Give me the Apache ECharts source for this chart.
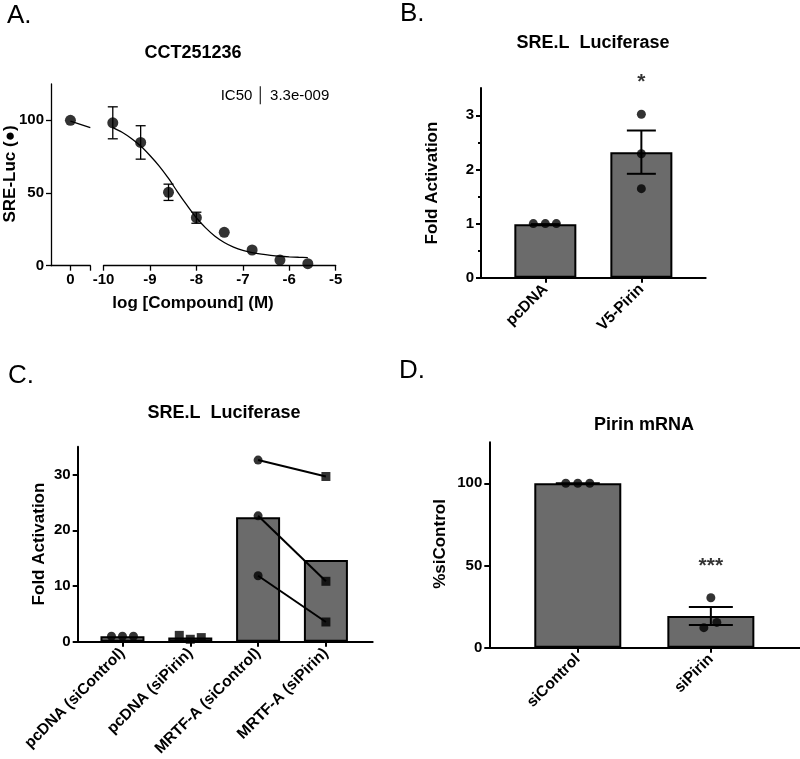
<!DOCTYPE html>
<html>
<head>
<meta charset="utf-8">
<script src="https://cdn.jsdelivr.net/npm/echarts@6/dist/echarts.min.js"></script>
<style>html,body{margin:0;padding:0;background:#fff}#c{width:800px;height:759px}</style>
</head>
<body>
<div id="c"></div>
<script>
// ---------- Panel A: CCT251236 dose response ----------
const vehicleXA = [0];
const vehicleYA = [100];
const logDoseA = [-9.8, -9.2, -8.6, -8.0, -7.4, -6.8, -6.2, -5.6];
const respA = [98.3, 84.8, 50.5, 33.0, 23.0, 10.8, 3.9, 1.4];
const semA = [11.0, 11.5, 5.6, 3.8, 0, 0, 0, 0];
const fitVehXA = [0, 0.43];
const fitVehYA = [99.5, 95];
const fitXA = [-9.8, -9.6, -9.4, -9.2, -9.0, -8.8, -8.6, -8.4, -8.2, -8.0, -7.8, -7.6, -7.4, -7.2, -7.0, -6.8, -6.6, -6.4, -6.2, -6.0, -5.8, -5.6];
const fitYA = [95, 91.8, 87.5, 82.3, 75.8, 68.5, 60, 50.5, 41.5, 33, 26, 20.3, 16, 12.8, 10.5, 9, 7.9, 7.1, 6.5, 6.1, 5.8, 5.6];
const ticksXA1 = [0];
const ticksXA2 = [-10, -9, -8, -7, -6, -5];
const ticksYA = [0, 50, 100];

// ---------- Panel B: SRE.L Luciferase (V5-Pirin) ----------
const catB = ['pcDNA', 'V5-Pirin'];
const meanB = [0.99, 2.32];
const semB = [0, 0.40];
const repB = [[1.0, 1.0, 1.0], [3.02, 2.29, 1.645]];
const sigB = ['', '*'];
const sigPosB = [0, 3.62];
const ticksYB = [0, 1, 2, 3];
const minorYB = [0.5, 1.5, 2.5];

// ---------- Panel C: SRE.L Luciferase (MRTF-A / siPirin) ----------
const catC = ['pcDNA (siControl)', 'pcDNA (siPirin)', 'MRTF-A (siControl)', 'MRTF-A (siPirin)'];
const meanC = [1.0, 0.75, 22.35, 14.68];
const repC = [[1, 1, 1], [1.15, 0.45, 0.75], [32.6, 22.6, 11.85], [29.65, 10.85, 3.55]];
const ticksYC = [0, 10, 20, 30];

// ---------- Panel D: Pirin mRNA ----------
const catD = ['siControl', 'siPirin'];
const meanD = [100, 19.3];
const semD = [0, 5.5];
const repD = [[100, 100, 100], [30.4, 15.4, 12.2]];
const sigD = ['', '***'];
const sigPosD = [0, 49.5];
const ticksYD = [0, 50, 100];

// ---------- styling (not data) ----------
const FONT = 'Liberation Sans, Arial, sans-serif';
const BAR = '#6b6b6b';
const jitB = [[-12, 0, 11], [0, 0, 0]];
const jitC = [[-11, 0, 11], [-11, 0, 11], [0, 0, 0], [0, 0, 0]];
const jitD = [[-12, 0, 12], [0, 6, -7]];
const symC = ['circle', 'rect', 'circle', 'rect'];

const chart = echarts.init(document.getElementById('c'));

function axisBase(lw) {
  return {
    axisLine: { show: true, onZero: false, lineStyle: { color: '#000', width: lw } },
    axisTick: { show: true, length: 5, lineStyle: { color: '#000', width: lw } },
    splitLine: { show: false },
    axisLabel: { color: '#000', fontWeight: 'bold', fontSize: 15, fontFamily: FONT, margin: 7 }
  };
}
function valueX(grid, min, max, customTicks, customLabels, formatter, lw, rotate, extra) {
  const b = axisBase(lw);
  const ax = Object.assign({ type: 'value', gridIndex: grid, min: min, max: max }, b);
  ax.axisTick = Object.assign({}, b.axisTick, { customValues: customTicks });
  ax.axisLabel = Object.assign({}, b.axisLabel, { customValues: customLabels });
  if (formatter) ax.axisLabel.formatter = formatter;
  if (rotate) { ax.axisLabel.rotate = rotate; ax.axisLabel.fontSize = 15.5; ax.axisLabel.margin = 9; }
  return Object.assign(ax, extra || {});
}
function valueY(grid, min, max, ticks, lw, extra) {
  const b = axisBase(lw);
  const ax = Object.assign({ type: 'value', gridIndex: grid, min: min, max: max, position: 'left' }, b);
  ax.axisTick = Object.assign({}, b.axisTick, { customValues: ticks });
  ax.axisLabel = Object.assign({}, b.axisLabel, { customValues: ticks });
  return Object.assign(ax, extra || {});
}

function errRenderer(capHalf, lw) {
  return function (params, api) {
    const x = api.value(0), lo = api.value(1), hi = api.value(2);
    const t = api.coord([x, hi]), b = api.coord([x, lo]);
    const st = { stroke: '#000', lineWidth: lw };
    const ch = [];
    if (hi > lo) ch.push({ type: 'line', shape: { x1: t[0], y1: t[1], x2: b[0], y2: b[1] }, style: st });
    ch.push({ type: 'line', shape: { x1: t[0] - capHalf, y1: t[1], x2: t[0] + capHalf, y2: t[1] }, style: st });
    if (hi > lo) ch.push({ type: 'line', shape: { x1: b[0] - capHalf, y1: b[1], x2: b[0] + capHalf, y2: b[1] }, style: st });
    return { type: 'group', children: ch };
  };
}

function repPoints(reps, jit) {
  const out = [];
  reps.forEach((col, i) => col.forEach((v, k) => {
    out.push({ value: [i, v], symbolOffset: [jit[i][k], 0] });
  }));
  return out;
}

const series = [];

// ----- A -----
series.push({
  type: 'line', xAxisIndex: 0, yAxisIndex: 0, symbol: 'none', silent: true,
  data: fitVehXA.map((x, i) => [x, fitVehYA[i]]),
  lineStyle: { color: '#000', width: 1.3 }, z: 2
});
series.push({
  type: 'scatter', xAxisIndex: 0, yAxisIndex: 0, symbolSize: 11,
  data: vehicleXA.map((x, i) => [x, vehicleYA[i]]),
  itemStyle: { color: '#000' }, z: 5
});
series.push({
  type: 'line', xAxisIndex: 1, yAxisIndex: 1, symbol: 'none', smooth: 0.3,
  data: fitXA.map((x, i) => [x, fitYA[i]]),
  lineStyle: { color: '#000', width: 1.3 }, z: 2
});
series.push({
  type: 'custom', xAxisIndex: 1, yAxisIndex: 1, renderItem: errRenderer(5, 1.3), z: 4,
  data: logDoseA.map((x, i) => [x, respA[i] - semA[i], respA[i] + semA[i]]).filter((d, i) => semA[i] > 0)
});
series.push({
  type: 'scatter', xAxisIndex: 1, yAxisIndex: 1, symbolSize: 11,
  data: logDoseA.map((x, i) => [x, respA[i]]),
  itemStyle: { color: '#000' }, z: 5
});

// ----- B -----
series.push({
  type: 'bar', xAxisIndex: 2, yAxisIndex: 2, barWidth: 62,
  data: meanB.map((v, i) => [i, v]),
  itemStyle: { color: BAR, borderColor: '#000', borderWidth: 2 }, z: 1
});
series.push({
  type: 'custom', xAxisIndex: 2, yAxisIndex: 2, renderItem: errRenderer(14.5, 2), z: 3,
  data: meanB.map((v, i) => [i, v - semB[i], v + semB[i]])
});
series.push({
  type: 'scatter', xAxisIndex: 2, yAxisIndex: 2, symbolSize: 9,
  data: repPoints(repB, jitB), itemStyle: { color: '#000' }, z: 5
});
series.push({
  type: 'scatter', xAxisIndex: 2, yAxisIndex: 2, symbolSize: 1, clip: false, silent: true,
  data: sigB.map((s, i) => ({ value: [i, sigPosB[i]], label: { formatter: s } })).filter((d, i) => sigB[i]),
  itemStyle: { color: 'rgba(0,0,0,0)' },
  label: { show: true, position: 'inside', color: '#000', fontSize: 21, fontFamily: FONT, fontWeight: 'bold' }
});

// ----- C -----
series.push({
  type: 'bar', xAxisIndex: 3, yAxisIndex: 4, barWidth: 44,
  data: meanC.map((v, i) => [i, v]),
  itemStyle: { color: BAR, borderColor: '#000', borderWidth: 2 }, z: 1
});
for (let k = 0; k < 3; k++) {
  series.push({
    type: 'line', xAxisIndex: 3, yAxisIndex: 4, symbol: 'none', silent: true,
    data: [[2, repC[2][k]], [3, repC[3][k]]],
    lineStyle: { color: '#000', width: 2 }, z: 3
  });
}
repC.forEach((col, i) => {
  series.push({
    type: 'scatter', xAxisIndex: 3, yAxisIndex: 4, symbol: symC[i], symbolSize: 9,
    data: col.map((v, k) => ({ value: [i, v], symbolOffset: [jitC[i][k], 0] })),
    itemStyle: { color: '#000' }, z: 5
  });
});

// ----- D -----
series.push({
  type: 'bar', xAxisIndex: 4, yAxisIndex: 5, barWidth: 87,
  data: meanD.map((v, i) => [i, v]),
  itemStyle: { color: BAR, borderColor: '#000', borderWidth: 2 }, z: 1
});
series.push({
  type: 'custom', xAxisIndex: 4, yAxisIndex: 5, renderItem: errRenderer(22, 2), z: 3,
  data: meanD.map((v, i) => [i, v - semD[i], v + semD[i]])
});
series.push({
  type: 'scatter', xAxisIndex: 4, yAxisIndex: 5, symbolSize: 9,
  data: repPoints(repD, jitD), itemStyle: { color: '#000' }, z: 5
});
series.push({
  type: 'scatter', xAxisIndex: 4, yAxisIndex: 5, symbolSize: 1, clip: false, silent: true,
  data: sigD.map((s, i) => ({ value: [i, sigPosD[i]], label: { formatter: s } })).filter((d, i) => sigD[i]),
  itemStyle: { color: 'rgba(0,0,0,0)' },
  label: { show: true, position: 'inside', color: '#000', fontSize: 21, fontFamily: FONT, fontWeight: 'bold' }
});

function txt(text, x, y, font, opts) {
  return Object.assign({
    type: 'text', x: x, y: y, silent: true,
    style: { text: text, font: font, fill: '#000', align: 'center', verticalAlign: 'middle' }
  }, opts || {});
}
const TITLE = 'bold 18px ' + FONT;
const AXN = 'bold 17px ' + FONT;
const LET = '26px ' + FONT;

const graphics = [
  txt('A.', 7, 16, LET),
  txt('B.', 400, 14, LET),
  txt('C.', 8, 376, LET),
  txt('D.', 399, 371, LET),
  txt('CCT251236', 193, 53, TITLE),
  txt('SRE.L  Luciferase', 593, 43, TITLE),
  txt('SRE.L  Luciferase', 224, 413, TITLE),
  txt('Pirin mRNA', 644, 425, TITLE),
  txt('IC50 \u2502 3.3e-009', 275, 96, '15px ' + FONT),
  txt('log [Compound] (M)', 193, 303, AXN),
  txt('SRE-Luc (\u25CF)', 10, 174, AXN, { rotation: Math.PI / 2 }),
  txt('Fold Activation', 432, 183, AXN, { rotation: Math.PI / 2 }),
  txt('Fold Activation', 39, 544, AXN, { rotation: Math.PI / 2 }),
  txt('%siControl', 440, 544, AXN, { rotation: Math.PI / 2 })
];
graphics.slice(0, 4).forEach(g => { g.style.align = 'left'; });

const option = {
  animation: false,
  backgroundColor: '#fff',
  grid: [
    { left: 51, top: 84, width: 39.3, height: 181.7 },
    { left: 103.5, top: 84, width: 232.2, height: 181.7 },
    { left: 481, top: 88.3, width: 224.7, height: 189.4 },
    { left: 77.7, top: 446.7, width: 295, height: 196.6 },
    { left: 489.3, top: 442.2, width: 310.7, height: 205.5 }
  ],
  xAxis: [
    valueX(0, -0.42, 0.43, [0, 0.43], ticksXA1, null, 1.3),
    Object.assign(valueX(1, -10, -5, ticksXA2, ticksXA2, null, 1.3), { interval: 1 }),
    valueX(2, -0.67, 1.67, [0, 1], [0, 1], v => catB[Math.round(v)], 2, 45),
    valueX(3, -0.66, 3.69, [0, 1, 2, 3], [0, 1, 2, 3], v => catC[Math.round(v)], 2, 45),
    valueX(4, -0.665, 1.67, [0, 1], [0, 1], v => catD[Math.round(v)], 2, 45)
  ],
  yAxis: [
    valueY(0, 0, 125, ticksYA, 1.3),
    valueY(1, 0, 125, ticksYA, 1.3, { show: false }),
    valueY(2, 0, 3.5, ticksYB, 2),
    valueY(2, 0, 3.5, minorYB, 2, { axisLabel: { show: false }, axisTick: { show: true, length: 3, customValues: minorYB, lineStyle: { color: '#000', width: 2 } } }),
    valueY(3, 0, 35, ticksYC, 2),
    valueY(4, 0, 125, ticksYD, 2)
  ],
  series: series,
  graphic: graphics
};
chart.setOption(option);
</script>
</body>
</html>
